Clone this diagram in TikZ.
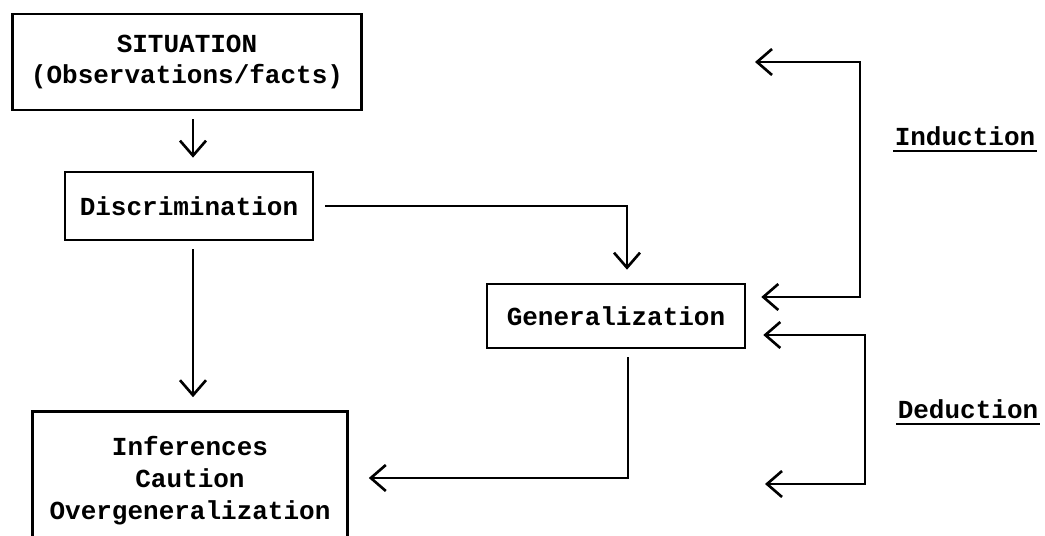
\documentclass[tikz,border=0pt]{standalone}
\usepackage{fontspec}
\setmonofont{Liberation Mono}
\usepackage{tikz}
\usetikzlibrary{calc,positioning}
\usetikzlibrary{arrows.meta}
\tikzset{>={Straight Barb[length=3mm,width=5.2mm]}}

\begin{document}
\begin{tikzpicture}[
					x=0.02cm, y=-0.02cm,
					line width=1.5pt,
					box/.style={draw, rectangle, align=center, inner sep=0pt, font=\ttfamily\bfseries\fontsize{14.8}{18}\selectfont},
					tag/.style={inner xsep=0pt, inner ysep=2pt, font=\ttfamily\bfseries\fontsize{14.8}{18}\selectfont},
					gap/.style={shorten <=1.6mm, shorten >=2.6mm},
				]
				\path[use as bounding box, clip] (0,0) rectangle (1045,536);

				\node[box,minimum width=6.98cm,minimum height=1.92cm] (situation) at (187,62) {SITUATION\\(Observations/facts)};
				\node[box,minimum width=4.96cm,minimum height=1.36cm] (discrim) at (189,206) {Discrimination};
				\node[box,minimum width=5.16cm,minimum height=1.28cm] (general) at (616,316) {Generalization};
				\node[box,minimum width=6.3cm,minimum height=2.66cm,text depth=0pt] (infer) at (190,478) {Inferences\\Caution\\Overgeneralization};

				\coordinate (indtop) at (755,62);
				\coordinate (dedbot) at (765,484);

				\draw[->,gap] ($(situation.south)+(6,0)$) -- ($(discrim.north)+(4,0)$);
				\draw[->,gap] ($(discrim.south)+(4,0)$) -- ($(infer.north)+(3,0)$);
				\draw[->,gap,shorten <=2.2mm] (discrim.east) -| ($(general.north)+(11,0)$);
				\draw[->,gap,shorten >=4mm] ($(general.south)+(12,0)$) |- (infer.east);

				% Induction / Deduction
				\draw[<->,shorten >=3mm] (indtop) -- ++(105,0) |- ($(general.east)+(0,-19)$);
				\draw[<->,shorten >=3.4mm] (dedbot) -- ++(100,0) |- ($(general.east)+(0,19)$);

				\node[tag,anchor=base] (induction) at (965,146) {Induction};
				\node[tag,anchor=base] (deduction) at (968,419) {Deduction};
				\draw (induction.south west) -- (induction.south east);
				\draw (deduction.south west) -- (deduction.south east);

			\end{tikzpicture}
\end{document}
